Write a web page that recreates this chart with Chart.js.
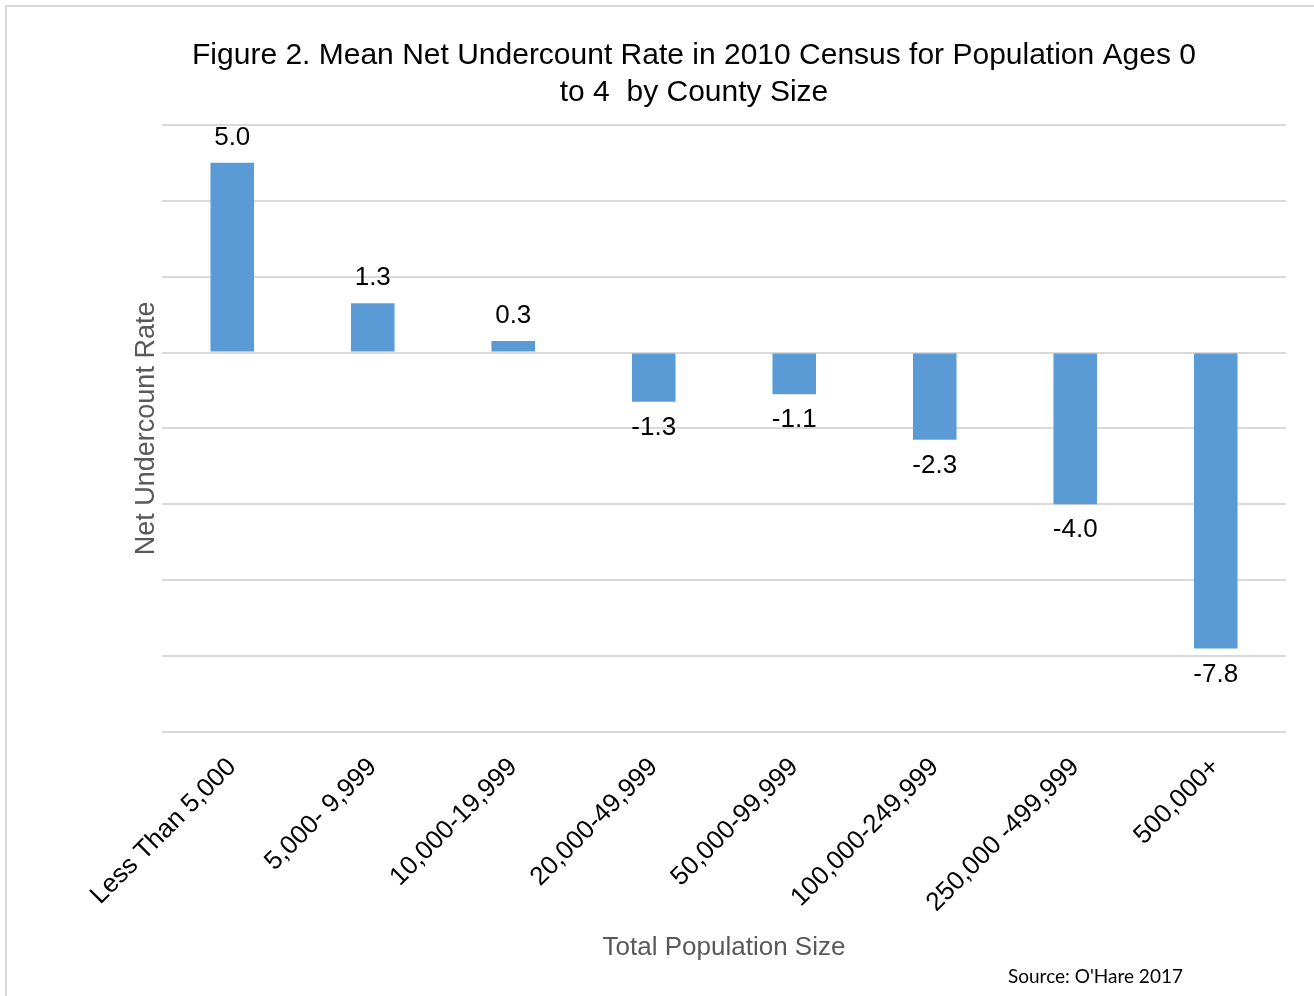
<!DOCTYPE html>
<html>
<head>
<meta charset="utf-8">
<script src="https://cdn.jsdelivr.net/npm/chart.js@4.4.1/dist/chart.umd.min.js"></script>
<style>
  html, body { margin: 0; padding: 0; background: #fff; }
  #wrap { position: relative; width: 1314px; height: 996px; overflow: hidden; }
  #frame { position: absolute; left: 5px; top: 5px; width: 1400px; height: 1100px;
           border: 2px solid #d9d9d9; box-sizing: border-box; }
  #chart { position: absolute; left: 0; top: 0; }
  #source { position: absolute; left: 1008px; top: 964px; font-family: Lato, "Open Sans", sans-serif;
            font-size: 19px; color: #000; }
</style>
</head>
<body>
<div id="wrap">
  <div id="frame"></div>
  <canvas id="chart" width="1314" height="996"></canvas>
  <div id="source">Source: O'Hare 2017</div>
</div>
<script>
// Chart data
var categories = ['Less Than 5,000', '5,000- 9,999', '10,000-19,999', '20,000-49,999',
                  '50,000-99,999', '100,000-249,999', '250,000 -499,999', '500,000+'];
var rates = [5.0, 1.3, 0.3, -1.3, -1.1, -2.3, -4.0, -7.8];
var yMin = -10;
var yMax = 6;
var yStep = 2;

var FONT = '"Liberation Sans", Arial, sans-serif';

// Value labels above / below each bar
var valueLabels = {
  id: 'valueLabels',
  afterDatasetsDraw: function(chart) {
    var ctx = chart.ctx;
    var meta = chart.getDatasetMeta(0);
    ctx.save();
    ctx.font = '26px ' + FONT;
    ctx.fillStyle = '#000';
    ctx.textAlign = 'center';
    ctx.textBaseline = 'middle';
    meta.data.forEach(function(bar, i) {
      var v = rates[i];
      var y = v >= 0 ? bar.y - 25 : bar.y + 26;
      ctx.fillText(v.toFixed(1), bar.x, y);
    });
    ctx.restore();
  }
};

new Chart(document.getElementById('chart'), {
  type: 'bar',
  data: {
    labels: categories,
    datasets: [{
      data: rates,
      backgroundColor: '#5b9bd5',
      borderWidth: 0,
      categoryPercentage: 1,
      barPercentage: 0.31
    }]
  },
  options: {
    responsive: false,
    animation: false,
    layout: { padding: { left: 102, right: 28, top: 0, bottom: 0 } },
    plugins: {
      legend: { display: false },
      tooltip: { enabled: false },
      title: {
        display: true,
        text: ['Figure 2. Mean Net Undercount Rate in 2010 Census for Population Ages 0', 'to 4  by County Size'],
        color: '#000',
        font: { family: FONT, size: 30, weight: 'normal', lineHeight: 1.23 },
        padding: { top: 37, bottom: 14 }
      }
    },
    scales: {
      x: {
        grid: { display: false, drawTicks: false },
        border: { display: false },
        ticks: {
          autoSkip: false,
          maxRotation: 45,
          minRotation: 45,
          padding: 20,
          color: '#000',
          font: { family: FONT, size: 26 }
        },
        title: {
          display: true,
          text: 'Total Population Size',
          color: '#595959',
          font: { family: FONT, size: 26 },
          padding: { top: 4, bottom: 33 }
        },
        afterFit: function(scale) { scale.height = 264; }
      },
      y: {
        min: yMin,
        max: yMax,
        ticks: { display: false, stepSize: yStep },
        grid: { color: '#d9d9d9', lineWidth: 2, drawTicks: false },
        border: { display: false },
        title: {
          display: true,
          text: 'Net Undercount Rate',
          color: '#595959',
          font: { family: FONT, size: 27 },
          padding: { top: 28, bottom: 4 }
        },
        afterFit: function(scale) { scale.width = 60; }
      }
    }
  },
  plugins: [valueLabels]
});
</script>
</body>
</html>
